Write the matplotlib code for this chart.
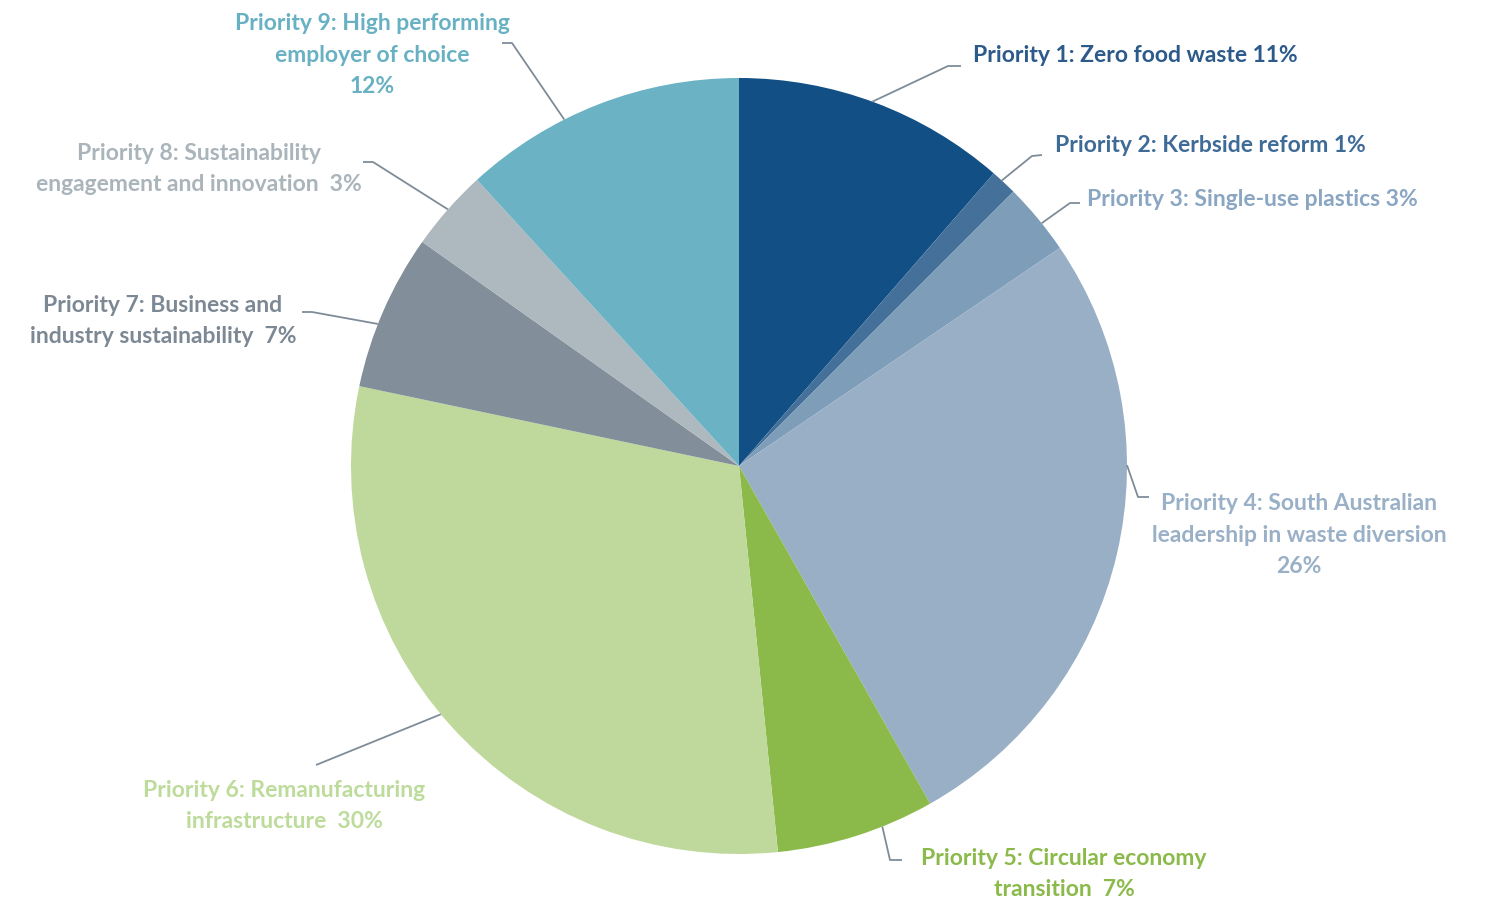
import matplotlib
matplotlib.use("Agg")
import matplotlib.pyplot as plt
import numpy as np

# Werte (Anteile in %)
priorities = ["Priority 1", "Priority 2", "Priority 3", "Priority 4", "Priority 5",
              "Priority 6", "Priority 7", "Priority 8", "Priority 9"]
shares = [11.4, 1.1, 3.0, 26.3, 6.6, 29.9, 6.5, 3.4, 11.8]
label_texts = [
    "Priority 1: Zero food waste 11%",
    "Priority 2: Kerbside reform 1%",
    "Priority 3: Single-use plastics 3%",
    "Priority 4: South Australian\nleadership in waste diversion\n26%",
    "Priority 5: Circular economy\ntransition  7%",
    "Priority 6: Remanufacturing\ninfrastructure  30%",
    "Priority 7: Business and\nindustry sustainability  7%",
    "Priority 8: Sustainability\nengagement and innovation  3%",
    "Priority 9: High performing\nemployer of choice\n12%",
]

slice_colors = ["#114f84", "#44709a", "#7e9db9", "#98afc6", "#8bba4b",
                "#bed99b", "#828f9b", "#aeb8bf", "#6bb3c4"]
text_colors = ["#2c5a8b", "#3f6b97", "#8aa6c2", "#99b0c7", "#8bba4b",
               "#bddb9b", "#7c8894", "#aab4bb", "#68b1c3"]

# Layout in Pixeln (von oben gemessen)
W, H = 1494, 906
center = (739, 466)
radius = 388
# Position des Linienstarts innerhalb des Segments (0 = Anfang im Uhrzeigersinn)
leader_frac = [0.49, 0.4, 0.58, 0.36, 0.33, 0.52, 0.41, 0.5, 0.37]
leader_path = [
    [(948, 66), (961, 66)],
    [(1032, 156), (1042, 155)],
    [(1070, 203), (1080, 203)],
    [(1138, 497), (1149, 497)],
    [(890, 860), (902, 860)],
    [(316, 765)],
    [(312, 312), (302, 312)],
    [(373, 162), (363, 162)],
    [(512, 43), (502, 43)],
]
label_pos = [(973, 55), (1055, 145), (1087, 199), (1299, 535), (1064, 874),
             (284, 806), (163, 321), (199, 169), (372, 55)]
label_ha = ["left", "left", "left", "center", "center",
            "center", "center", "center", "center"]


def main():
    fig = plt.figure(figsize=(W / 100, H / 100), dpi=100)
    ax = fig.add_axes([0, 0, 1, 1])

    wedges, _ = ax.pie(shares, colors=slice_colors, startangle=90, counterclock=False,
                       center=(center[0], H - center[1]), radius=radius,
                       wedgeprops=dict(linewidth=0))

    for i, w in enumerate(wedges):
        # Winkel im Uhrzeigersinn vom Segmentanfang
        ang = np.deg2rad(w.theta2 - leader_frac[i] * (w.theta2 - w.theta1))
        x0 = center[0] + radius * np.cos(ang)
        y0 = (H - center[1]) + radius * np.sin(ang)
        xs = [x0] + [p[0] for p in leader_path[i]]
        ys = [y0] + [H - p[1] for p in leader_path[i]]
        ax.plot(xs, ys, color="#7f8c98", lw=1.3, solid_capstyle="butt", zorder=3)

        lx, ly = label_pos[i]
        ax.text(lx, H - ly, label_texts[i], ha=label_ha[i], va="center",
                multialignment="center", color=text_colors[i], fontsize=16.5,
                fontweight="bold", family=["Lato", "DejaVu Sans"], linespacing=1.62)

    ax.set_xlim(0, W)
    ax.set_ylim(0, H)
    ax.set_aspect("equal")
    ax.axis("off")

    fig.savefig("out.png", dpi=100, facecolor="white")


if __name__ == "__main__":
    main()
